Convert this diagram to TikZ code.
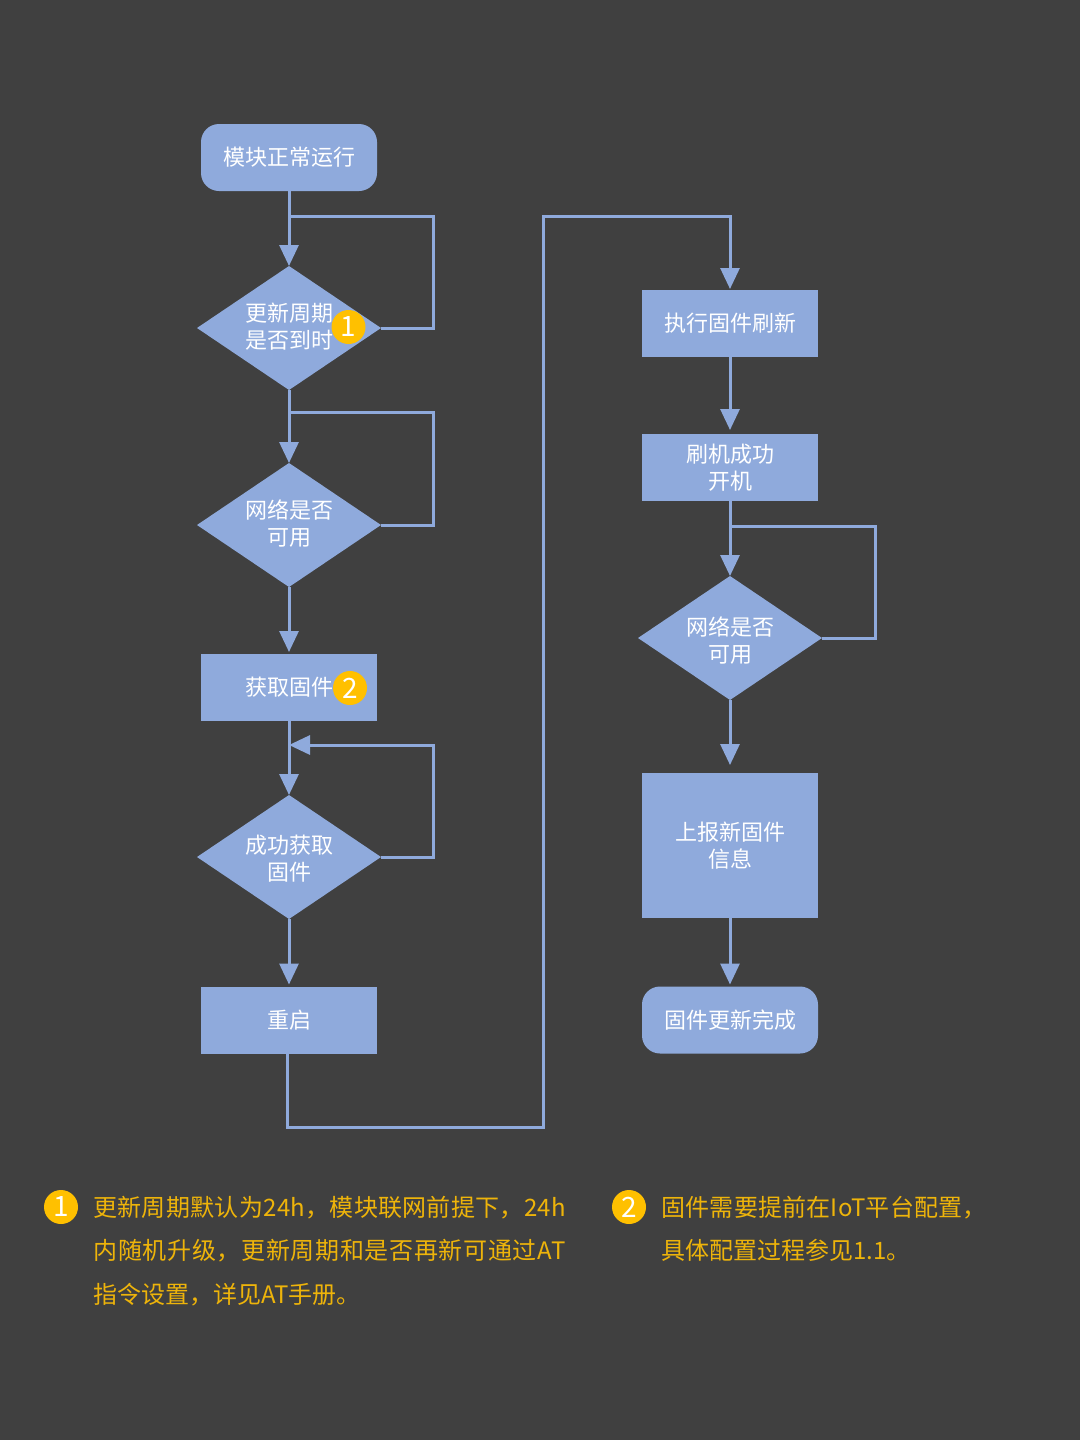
\documentclass[tikz,border=0pt]{standalone}
\usepackage{fontspec}
\setmainfont{Noto Sans CJK SC}
\usepackage{xcolor}
\usetikzlibrary{arrows.meta, shapes.geometric}
\definecolor{pageBg}{RGB}{64, 64, 64}
\definecolor{flowBlue}{RGB}{143, 170, 220}
\definecolor{noteGold}{RGB}{255, 192, 0}
\definecolor{noteText}{RGB}{238, 180, 10}
\newcommand{\spread}[2]{{\addfontfeature{LetterSpace=#1}#2}}

\tikzset{
  procbox/.style={rectangle, fill=flowBlue, text=white, minimum width=88pt, minimum height=33.5pt,
    inner sep=0pt, outer sep=0pt, align=center, font=\fontsize{11}{13.5}\selectfont},
  endbox/.style={procbox, rounded corners=9pt},
  decide/.style={diamond, fill=flowBlue, text=white, minimum width=92pt, minimum height=62pt,
    shape aspect=1.484, inner sep=0pt, outer sep=0pt, align=center, font=\fontsize{11}{13.5}\selectfont},
  badge/.style={circle, fill=noteGold, text=white, minimum size=17pt, inner sep=0pt,
    font=\fontsize{14}{14}\selectfont},
  note/.style={anchor=north west, inner sep=0pt, align=left, text=noteText,
    font=\fontsize{12}{21.6}\selectfont},
  flow/.style={draw=flowBlue, line width=1.5pt, -{Triangle[width=9.5pt,length=10.5pt]}},
  plainline/.style={draw=flowBlue, line width=1.5pt, line join=miter},
}

\begin{document}
\begin{tikzpicture}[x=0.5pt, y=-0.5pt]
  \fill[pageBg] (0,0) rectangle (1080,1440);

  % --- left column ---
  \node[endbox] (start) at (289,157.5) {模块正常运行};
  \node[decide] (due) at (289,328) {更新周期\\是否到时\rule[-2.4pt]{0pt}{0pt}};
  \node[decide] (netA) at (289,525) {网络是否\\可用\rule[-2.4pt]{0pt}{0pt}};
  \node[procbox] (fetch) at (289,687.5) {获取固件};
  \node[decide] (okfetch) at (289,857) {\rule{0pt}{11.2pt}成功获取\\固件};
  \node[procbox] (reboot) at (289,1020) {重启};

  % --- right column ---
  \node[procbox] (flash) at (730,323.5) {执行固件刷新};
  \node[procbox] (boot) at (730,467.5) {刷机成功\\开机};
  \node[decide] (netB) at (730,638) {\rule{0pt}{12.2pt}网络是否\\可用};
  \node[procbox, minimum height=72.5pt] (report) at (730,845.5) {上报新固件\\信息};
  \node[endbox] (done) at (730,1020) {固件更新完成};

  % straight arrows, some stop short of the next box
  \foreach \from/\to/\gap in {start/due/0, due/netA/0, netA/fetch/1, fetch/okfetch/0, okfetch/reboot/1,
                              flash/boot/2, boot/netB/0, netB/report/4, report/done/1}
    \draw[flow, shorten >=\gap pt] (\from.south) -- (\to.north);

  % retry loops
  \coordinate (joinA) at (289,216);
  \coordinate (joinB) at (289,412);
  \coordinate (joinC) at (289,745);
  \coordinate (joinD) at (730,526);
  \coordinate (railA) at (433.5,0);
  \coordinate (railB) at (875,0);
  \draw[plainline] (due.east) -- (due.east -| railA) -- (joinA -| railA) -- (joinA);
  \draw[plainline] (netA.east) -- (netA.east -| railA) -- (joinB -| railA) -- (joinB);
  \draw[flow] (okfetch.east) -- (okfetch.east -| railA) -- (joinC -| railA) -- (joinC);
  \draw[plainline] (netB.east) -- (netB.east -| railB) -- (joinD -| railB) -- (joinD);

  % reboot over to the flash step
  \coordinate (lowL) at (287,1127);
  \coordinate (lowR) at (543.5,1127);
  \coordinate (topR) at (543.5,216);
  \draw[flow, shorten >=0.5pt] (lowL |- reboot.south) -- (lowL) -- (lowR) -- (topR) -- (topR -| flash.north) -- (flash.north);

  % badges on the chart
  \node[badge] (markA) at (348.5,327) {1};
  \node[badge] (markB) at (350,688) {2};

  % --- notes ---
  \node[badge] (noteMarkA) at (61,1207) {1};
  \node[badge] (noteMarkB) at (629,1207) {2};
  \node[note] (noteA) at (93,1196) {\spread{1.2}{更新周期默认为24h，模块联网前提下，24h}\\\spread{2.8}{内随机升级，更新周期和是否再新可通过AT}\\指令设置，详见AT手册。};
  \node[note] (noteB) at (661,1196) {\spread{0.9}{固件需要提前在IoT平台配置，}\\具体配置过程参见1.1。};
\end{tikzpicture}
\end{document}
